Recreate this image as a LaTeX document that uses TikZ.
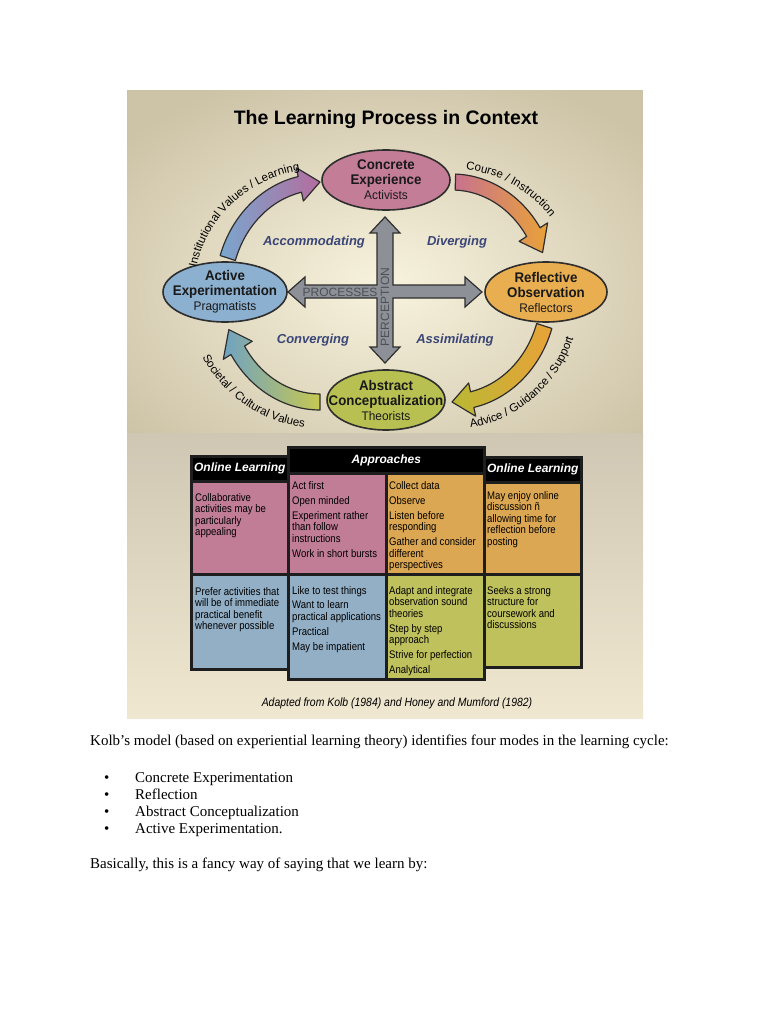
\documentclass[tikz,border=0pt]{standalone}
\usepackage{fontspec}
\setmainfont{Liberation Serif}
\setsansfont{Liberation Sans}
\newfontfamily\narrowsans[FakeStretch=0.87]{Liberation Sans}
\newfontfamily\stagefont[FakeStretch=0.95]{Liberation Sans}
\usetikzlibrary{shapes.geometric,decorations.text}

\definecolor{bgouter}{HTML}{CDC3A7}
\definecolor{bginner}{HTML}{F8F3DE}
\definecolor{bglowtop}{HTML}{CFC7B3}
\definecolor{bglowbot}{HTML}{EFE7CF}
\definecolor{outline}{HTML}{2E2E2E}
\definecolor{cepink}{HTML}{C47D96}
\definecolor{aeblue}{HTML}{8CB0CF}
\definecolor{roorange}{HTML}{E8AE50}
\definecolor{acgreen}{HTML}{B8C052}
\definecolor{arrblue}{HTML}{79A7CE}
\definecolor{arrpurple}{HTML}{B46C9E}
\definecolor{arrpink}{HTML}{C8728E}
\definecolor{arrorange}{HTML}{E9A238}
\definecolor{arrolive}{HTML}{B9B834}
\definecolor{arrgreen}{HTML}{C6C852}
\definecolor{arrteal}{HTML}{6FA2C2}
\definecolor{crossgray}{HTML}{8E9098}
\definecolor{crosstext}{HTML}{4E5058}
\definecolor{modeblue}{HTML}{3A4677}
\definecolor{cellpink}{HTML}{C07D95}
\definecolor{cellorange}{HTML}{DCA752}
\definecolor{cellblue}{HTML}{92AFC6}
\definecolor{cellgreen}{HTML}{BFC15D}
\definecolor{gridline}{HTML}{1E1E1E}

\newcommand\stagerole[1]{{\mdseries\fontsize{12.5}{15}\selectfont #1}}
\newcommand\arcfont{\sffamily\fontsize{11.5}{11.5}\selectfont}

\begin{document}
\begin{tikzpicture}[x=1pt, y=1pt,
    stage/.style={ellipse, draw=outline, line width=1.6pt, minimum height=60pt, inner sep=0pt},
    stagetext/.style={align=center, inner sep=0pt, text=black!90,
      font=\stagefont\bfseries\fontsize{14}{15}\selectfont},
    modelabel/.style={font=\sffamily\bfseries\itshape\fontsize{13}{13}\selectfont, text=modeblue},
    blockarrow/.style={draw=outline, line width=1.2pt, line join=round},
    crossarrow/.style={draw=outline, line width=1.2pt, fill=crossgray},
    axislabel/.style={font=\sffamily\fontsize{12}{12}\selectfont, text=crosstext, inner sep=0pt},
    cell/.style={draw=gridline, line width=2.6pt, anchor=north west, inner sep=0pt},
    header/.style={cell, fill=black, text=white, font=\sffamily\bfseries\itshape\fontsize{12}{12}\selectfont},
    celltext/.style={anchor=north west, inner sep=0pt, align=left,
      font=\narrowsans\fontsize{11}{11.5}\selectfont},
    body/.style={anchor=base west, inner sep=0pt, font=\fontsize{15}{15}\selectfont}
  ]
  \useasboundingbox (0,0) rectangle (768,-1024);
  \fill[white] (0,0) rectangle (768,-1024);

  % background of the figure
  \fill[bgouter] (127,-90) rectangle (643,-433);
  \begin{scope}
    \clip (127.5,-90.5) rectangle (642.5,-433);
    \shade[inner color=bginner, outer color=bgouter] (386,-285) ellipse[x radius=340, y radius=225];
  \end{scope}
  \shade[top color=bglowtop, bottom color=bglowbot] (127,-433) rectangle (643,-718);

  \node[font=\sffamily\bfseries\fontsize{19.5}{20}\selectfont] (title) at (386,-120) {The Learning Process in Context};

  % the four stages
  \node[stage, fill=cepink, minimum width=128pt] (concrete) at (386,-180) {};
  \node[stage, fill=roorange, minimum width=122pt] (reflective) at (546,-292) {};
  \node[stage, fill=acgreen, minimum width=118pt] (abstract) at (386,-400) {};
  \node[stage, fill=aeblue, minimum width=124pt] (active) at (225,-292) {};
  \node[stagetext] at (concrete) {Concrete\\Experience\\\stagerole{Activists}};
  \node[stagetext] at (reflective) {Reflective\\Observation\\\stagerole{Reflectors}};
  \node[stagetext] at (abstract) {Abstract\\Conceptualization\\\stagerole{Theorists}};
  \node[stagetext] at (active) {Active\\Experimentation\\\stagerole{Pragmatists}};

  % centres of the cycle arcs
  \coordinate (lc) at (320,-292);
  \coordinate (rc) at (452,-292);

  % active -> concrete
  \begin{scope}[shift={(lc)}]
    \shadedraw[blockarrow, left color=arrblue, right color=arrpurple]
      (162:105 and 118) arc[start angle=162, end angle=102, x radius=105, y radius=118]
      -- (102:114 and 127) -- (90:97 and 110) -- (102:80 and 93) -- (102:89 and 102)
      arc[start angle=102, end angle=162, x radius=89, y radius=102] -- cycle;
    \path[decorate, decoration={text along path, text align=center,
        text={|\arcfont|Institutional Values / Learning}}]
      (174:126 and 123) arc[start angle=174, end angle=94, x radius=126, y radius=123];
  \end{scope}

  % concrete -> reflective
  \begin{scope}[shift={(rc)}]
    \shadedraw[blockarrow, left color=arrpink, right color=arrorange]
      (88:105 and 118) arc[start angle=88, end angle=33, x radius=105, y radius=118]
      -- (33:114 and 127) -- (21:97 and 110) -- (33:80 and 93) -- (33:89 and 102)
      arc[start angle=33, end angle=88, x radius=89, y radius=102] -- cycle;
    \path[decorate, decoration={text along path, text align=center,
        text={|\arcfont|Course / Instruction}}]
      (96:124 and 123) arc[start angle=96, end angle=25, x radius=124, y radius=123];
  \end{scope}

  % reflective -> abstract
  \begin{scope}[shift={(rc)}]
    \shadedraw[blockarrow, left color=arrolive, right color=arrorange]
      (-18:105 and 118) arc[start angle=-18, end angle=-78, x radius=105, y radius=118]
      -- (-78:114 and 127) -- (-90:97 and 110) -- (-78:80 and 93) -- (-78:89 and 102)
      arc[start angle=-78, end angle=-18, x radius=89, y radius=102] -- cycle;
    \path[decorate, decoration={text along path, text align=center,
        text={|\arcfont|Advice / Guidance / Support}}]
      (-91:129 and 137) arc[start angle=-91, end angle=-11, x radius=129, y radius=137];
  \end{scope}

  % abstract -> active
  \begin{scope}[shift={(lc)}]
    \shadedraw[blockarrow, left color=arrteal, right color=arrgreen]
      (270:105 and 118) arc[start angle=270, end angle=212, x radius=105, y radius=118]
      -- (212:114 and 127) -- (200:97 and 110) -- (212:80 and 93) -- (212:89 and 102)
      arc[start angle=212, end angle=270, x radius=89, y radius=102] -- cycle;
    \path[decorate, decoration={text along path, text align=center,
        text={|\arcfont|Societal / Cultural Values}}]
      (196:134 and 136) arc[start angle=196, end angle=276, x radius=134, y radius=136];
  \end{scope}

  % perception / processes cross
  \draw[crossarrow] (385,-217) -- (400,-233) -- (393,-233) -- (393,-285) -- (465,-285)
    -- (465,-277) -- (482,-292) -- (465,-307) -- (465,-298) -- (393,-298) -- (393,-347)
    -- (400,-347) -- (385,-363) -- (370,-347) -- (377,-347) -- (377,-298) -- (305,-298)
    -- (305,-307) -- (288,-292) -- (305,-277) -- (305,-285) -- (377,-285) -- (377,-233)
    -- (370,-233) -- cycle;
  \node[axislabel] (processes) at (340,-292) {PROCESSES};
  \node[axislabel, rotate=90] (perception) at (385,-307) {PERCEPTION};

  \node[modelabel] (accommodating) at (314,-242) {Accommodating};
  \node[modelabel] (diverging) at (457,-242) {Diverging};
  \node[modelabel] (converging) at (313,-340) {Converging};
  \node[modelabel] (assimilating) at (455,-340) {Assimilating};

  % table of approaches
  \node[header, minimum width=97pt, minimum height=25pt] (olhead) at (190,-455) {Online Learning};
  \node[cell, fill=cellpink, minimum width=97pt, minimum height=93pt] (olpink) at (190,-480) {};
  \node[cell, fill=cellblue, minimum width=97pt, minimum height=95pt] (olblue) at (190,-573) {};
  \node[header, minimum width=97pt, minimum height=25pt] (orhead) at (483,-456) {Online Learning};
  \node[cell, fill=cellorange, minimum width=97pt, minimum height=92pt] (ororange) at (483,-481) {};
  \node[cell, fill=cellgreen, minimum width=97pt, minimum height=93pt] (orgreen) at (483,-573) {};
  \node[header, minimum width=196pt, minimum height=26pt] (aphead) at (287,-446) {Approaches};
  \node[cell, fill=cellpink, minimum width=98pt, minimum height=101pt] (appink) at (287,-472) {};
  \node[cell, fill=cellorange, minimum width=98pt, minimum height=101pt] (aporange) at (385,-472) {};
  \node[cell, fill=cellblue, minimum width=98pt, minimum height=105pt] (apblue) at (287,-573) {};
  \node[cell, fill=cellgreen, minimum width=98pt, minimum height=105pt] (apgreen) at (385,-573) {};

  \node[celltext] at (195,-493) {Collaborative\\activities may be\\particularly\\appealing};
  \node[celltext] at (292,-481) {Act first\\[3.5pt]Open minded\\[3.5pt]Experiment rather\\than follow\\instructions\\[3.5pt]Work in short bursts};
  \node[celltext] at (389,-481) {Collect data\\[3.5pt]Observe\\[3.5pt]Listen before\\responding\\[3.5pt]Gather and consider\\different\\perspectives};
  \node[celltext] at (487,-491) {May enjoy online\\discussion ñ\\allowing time for\\reflection before\\posting};
  \node[celltext] at (195,-587) {Prefer activities that\\will be of immediate\\practical benefit\\whenever possible};
  \node[celltext] at (292,-586) {Like to test things\\[3pt]Want to learn\\practical applications\\[3.5pt]Practical\\[3.5pt]May be impatient};
  \node[celltext] at (389,-586) {Adapt and integrate\\observation sound\\theories\\[3.5pt]Step by step\\approach\\[3.5pt]Strive for perfection\\[3.5pt]Analytical};
  \node[celltext] at (487,-586) {Seeks a strong\\structure for\\coursework and\\discussions};

  \node[font=\narrowsans\itshape\fontsize{12}{12}\selectfont] (source) at (397,-703)
    {Adapted from Kolb (1984) and Honey and Mumford (1982)};

  % text under the figure
  \node[body] (intro) at (90,-745) {Kolb’s model (based on experiential learning theory) identifies four modes in the learning cycle:};
  \foreach \txt [count=\i] in {Concrete Experimentation, Reflection, Abstract Conceptualization, Active Experimentation.} {
    \node[body] (mark\i) at (104,{-782-17*(\i-1)}) {\textbullet};
    \node[body] (item\i) at (135,{-782-17*(\i-1)}) {\txt};
  }
  \node[body] (outro) at (90,-868) {Basically, this is a fancy way of saying that we learn by:};
\end{tikzpicture}
\end{document}
